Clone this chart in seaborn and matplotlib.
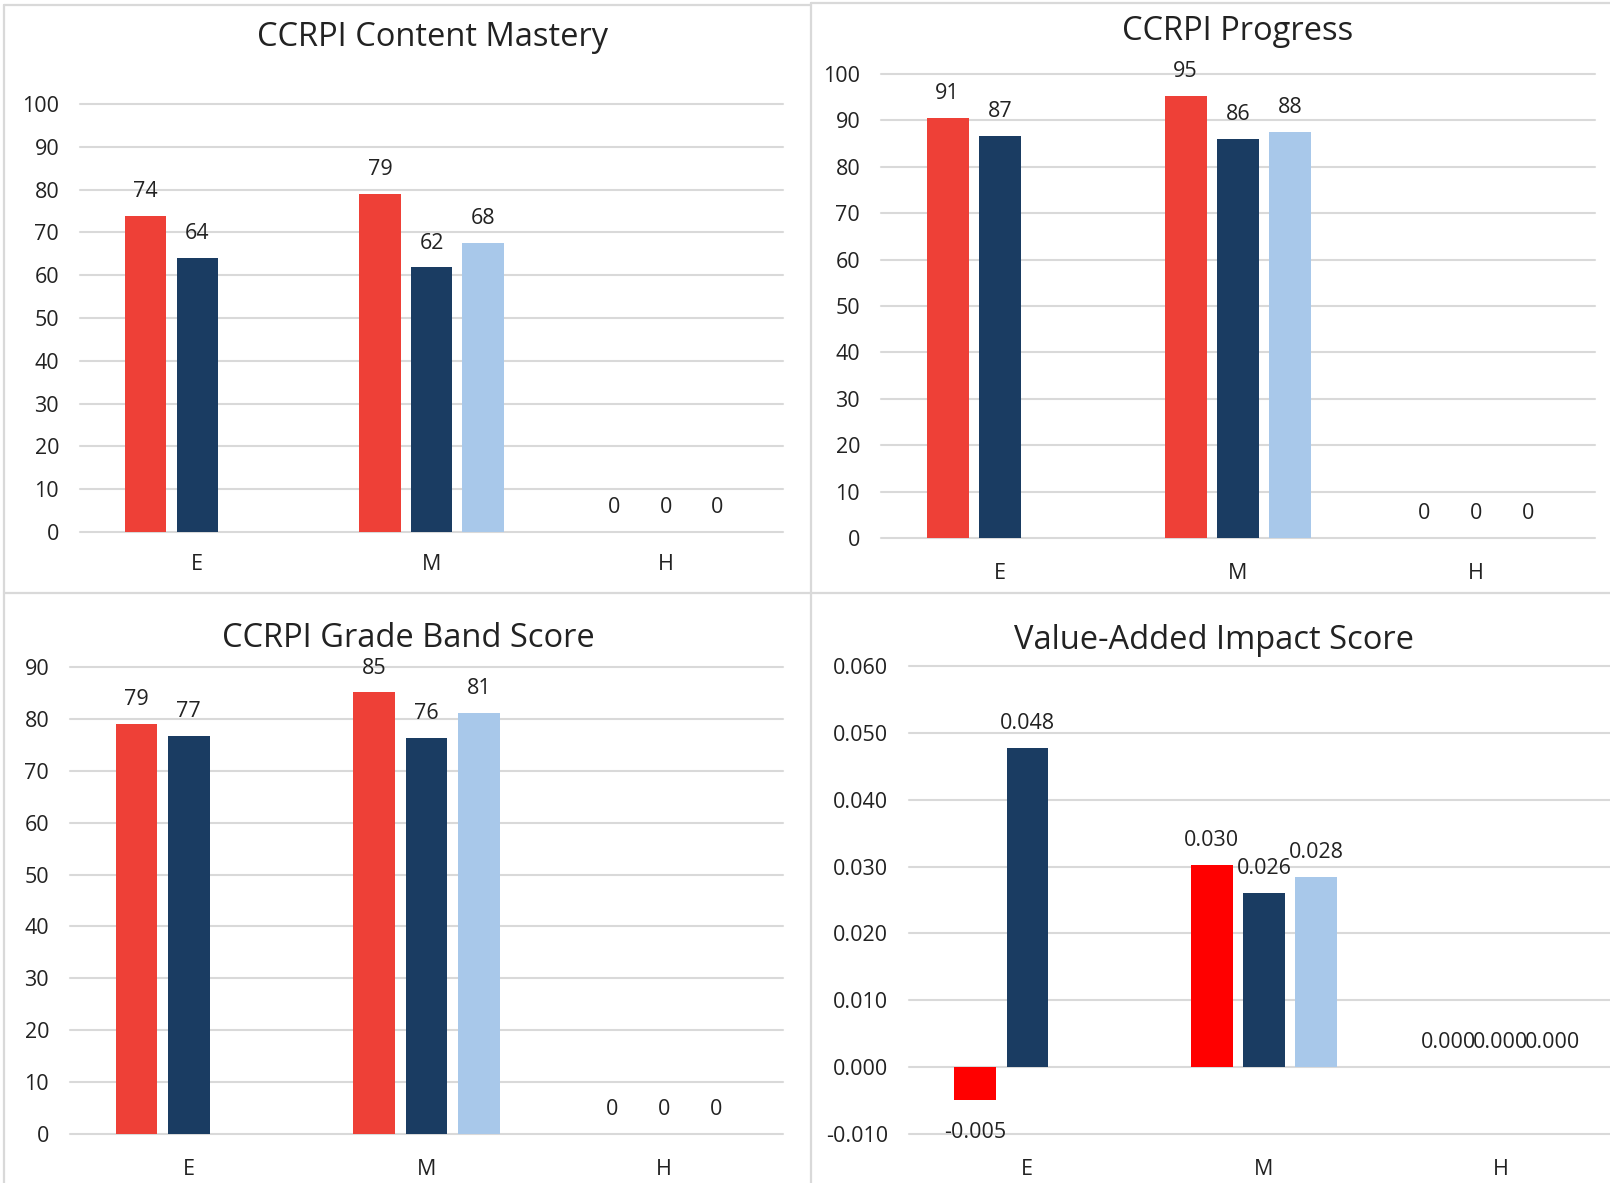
import numpy as np
import pandas as pd
import matplotlib.pyplot as plt
import seaborn as sns
from matplotlib.lines import Line2D
from matplotlib.ticker import FormatStrFormatter

grades = ['E', 'M', 'H']
sources = ['School', 'District', 'State']

mastery_school = [73.8, 79.0, 0]
mastery_district = [64.1, 61.8, 0]
mastery_state = [np.nan, 67.6, 0]

progress_school = [90.6, 95.2, 0]
progress_district = [86.6, 86.0, 0]
progress_state = [np.nan, 87.6, 0]

band_school = [79.0, 85.1, 0]
band_district = [76.7, 76.4, 0]
band_state = [np.nan, 81.1, 0]

impact_school = [-0.0049, 0.0302, 0]
impact_district = [0.0478, 0.0261, 0]
impact_state = [np.nan, 0.0284, 0]

RED = '#EE4037'
NAVY = '#1A3C62'
LIGHT = '#A8C8EA'
GRID = '#D9D9D9'
TEXT = '#222222'
FS = 15.5


def make_df(school, district, state):
    rows = []
    for src, vals in zip(sources, [school, district, state]):
        for g, v in zip(grades, vals):
            rows.append({'grade': g, 'source': src, 'value': v})
    return pd.DataFrame(rows).dropna()


sns.set_theme(style='white')
plt.rcParams['font.family'] = ['Open Sans', 'DejaVu Sans']
plt.rcParams['axes.unicode_minus'] = False

W, H = 1610, 1183
fig = plt.figure(figsize=(W / 100, H / 100), dpi=100)

# (titolo, dati, rettangolo in pixel [x0, x1, ytop, ybottom], ylim, passo, formato, rosso, titolo xy, pad x)
panels = [
    ('CCRPI Content Mastery', make_df(mastery_school, mastery_district, mastery_state),
     (80, 783, 104, 532), (0, 100), 10, '%.0f', RED, (433, 38), 22),
    ('CCRPI Progress', make_df(progress_school, progress_district, progress_state),
     (881, 1595, 74, 538), (0, 100), 10, '%.0f', RED, (1238, 31), 24),
    ('CCRPI Grade Band Score', make_df(band_school, band_district, band_state),
     (70, 783, 667, 1134), (0, 90), 10, '%.0f', RED, (408, 639), 24),
    ('Value-Added Impact Score', make_df(impact_school, impact_district, impact_state),
     (909, 1619, 666, 1134), (-0.01, 0.06), 0.01, '%.3f', '#FF0000', (1214, 640), 24),
]

for title, df, (x0, x1, yt, yb), ylim, step, fmt, red, (tx, ty), xpad in panels:
    ax = fig.add_axes([x0 / W, 1 - yb / H, (x1 - x0) / W, (yb - yt) / H])
    sns.barplot(data=df, x='grade', y='value', hue='source', order=grades,
                hue_order=sources, palette=[red, NAVY, LIGHT], saturation=1,
                width=0.66, gap=0.2, errorbar=None, legend=False,
                linewidth=0, ax=ax)
    for cont in ax.containers:
        labels = ax.bar_label(cont, fmt=fmt, padding=10, fontsize=FS, color=TEXT)
        # etichette dei valori negativi un po' più in basso
        for lab, v in zip(labels, cont.datavalues):
            if v < 0:
                lab.xyann = (0, -16)
    ax.set_xlim(-0.5, 2.5)
    ax.set_ylim(*ylim)
    ax.set_yticks(np.arange(ylim[0], ylim[1] + step / 2, step))
    if fmt == '%.3f':
        ax.yaxis.set_major_formatter(FormatStrFormatter('%.3f'))
    ax.set_xlabel('')
    ax.set_ylabel('')
    for s in ax.spines.values():
        s.set_visible(False)
    ax.grid(axis='y', color=GRID, linewidth=1.5)
    ax.grid(axis='x', visible=False)
    ax.set_axisbelow(True)
    for gl in ax.yaxis.get_gridlines():
        gl.set_clip_on(False)
    ax.tick_params(axis='y', length=0, pad=15, labelsize=FS, labelcolor=TEXT)
    ax.tick_params(axis='x', length=0, pad=xpad - 6, labelsize=FS, labelcolor=TEXT)
    fig.text(tx / W, 1 - ty / H, title, ha='center', va='center',
             fontsize=23.5, color=TEXT)

# bordi dei quattro riquadri
def fig_line(xs, ys):
    fig.add_artist(Line2D([x / W for x in xs], [1 - y / H for y in ys],
                          color=GRID, linewidth=1.6))

fig_line([4, 811], [5, 5])
fig_line([811, 1610], [3, 3])
fig_line([4, 4], [5, 1183])
fig_line([811, 811], [3, 1183])
fig_line([4, 1610], [593, 593])

fig.savefig('out.png', dpi=100)
